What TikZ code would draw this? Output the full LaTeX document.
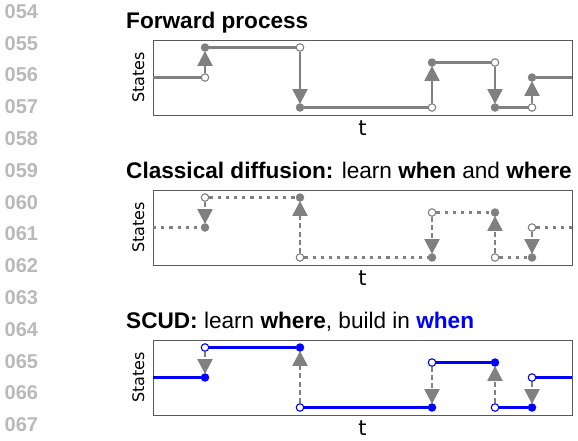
\documentclass[tikz,border=0pt]{standalone}
\usepackage{fontspec}
\setmainfont{Liberation Sans}
\newfontfamily\plotfont{DejaVu Sans}
\usetikzlibrary{arrows.meta}
\usetikzlibrary{positioning}

\definecolor{jumpgray}{RGB}{128,128,128}
\definecolor{linenum}{RGB}{185,185,185}
\definecolor{scudblue}{RGB}{0,0,255}

\begin{document}
\begin{tikzpicture}[x=1pt, y=-1pt,
    frame/.style={draw=black!65, line width=0.9pt, minimum width=419pt,
                  minimum height=75pt, inner sep=0pt},
    title/.style={anchor=base west, inner sep=0pt,
                  font=\fontsize{22.6pt}{27pt}\selectfont},
    ylab/.style={rotate=90, inner sep=0pt,
                 font=\plotfont\fontsize{16pt}{19pt}\selectfont},
    tlab/.style={anchor=base, inner sep=0pt,
                 font=\plotfont\fontsize{21pt}{25pt}\selectfont},
    opendot/.style={circle, inner sep=0pt, minimum size=7.5pt, fill=white,
                    draw=#1, line width=1.1pt},
    fulldot/.style={circle, inner sep=0pt, minimum size=8.5pt, fill=#1},
    fwline/.style={draw=jumpgray, line width=3pt},
    dotline/.style={draw=jumpgray, line width=3.2pt, dash pattern=on 3.2pt off 5pt},
    blueline/.style={draw=scudblue, line width=3pt},
    fwjump/.style={draw=jumpgray, line width=2.3pt, shorten >=-1pt,
                   -{Triangle[width=15pt, length=15pt]}},
    revjump/.style={fwjump, line width=2.4pt, dash pattern=on 5pt off 3.3pt}]
 \useasboundingbox (0,0) rectangle (578,440);

 % line numbers
 \foreach \n [count=\k from 0] in {054,055,056,057,058,059,060,061,062,063,064,065,066,067}
   \node (ln-\k) [anchor=base west, inner sep=0pt, text=linenum,
                  font=\bfseries\fontsize{20pt}{24pt}\selectfont]
         at (4.5,{18.3+31.8*\k}) {\n};

 % forward process
 \node (ttl-fw) [title] at (126,28) {\textbf{Forward process}};
 \node (box-fw) [frame] at (362.5,77.5) {};
 \node (ylab-fw) [ylab] at (138.3,77.5) {States};
 \node (tlab-fw) [tlab] at (362.5,135.5) {t};
 \coordinate (fw-0-b) at (153,77.5);
 \coordinate (fw-6-a) at (572,77.5);
 \foreach \i/\x/\a/\b in {1/205/2/4, 2/300/4/0, 3/432/0/3, 4/495/3/0, 5/532/0/2} {
   \node (fw-\i-a) [opendot=jumpgray] at (\x,{107.5-15*\a}) {};
   \node (fw-\i-b) [fulldot=jumpgray] at (\x,{107.5-15*\b}) {};
 }
 \foreach \i [evaluate=\i as \j using int(\i+1)] in {0,...,5}
   \draw[fwline] (fw-\i-b) -- (fw-\j-a);
 \foreach \i in {1,...,5}
   \draw[fwjump] (fw-\i-a) -- (fw-\i-b);

 % classical diffusion
 \begin{scope}[yshift=-150pt]
 \node (ttl-cd) [title] at (126,28)
       {\textbf{Classical diffusion:} learn \textbf{when} and \textbf{where}};
 \node (box-cd) [frame] at (362.5,77.5) {};
 \node (ylab-cd) [ylab] at (138.3,77.5) {States};
 \node (tlab-cd) [tlab] at (362.5,135.5) {t};
 \coordinate (cd-0-b) at (153,77.5);
 \coordinate (cd-6-a) at (572,77.5);
 \foreach \i/\x/\a/\b in {1/205/2/4, 2/300/4/0, 3/432/0/3, 4/495/3/0, 5/532/0/2} {
   \node (cd-\i-a) [fulldot=jumpgray] at (\x,{107.5-15*\a}) {};
   \node (cd-\i-b) [opendot=jumpgray] at (\x,{107.5-15*\b}) {};
 }
 \foreach \i [evaluate=\i as \j using int(\i+1)] in {0,...,5}
   \draw[dotline] (cd-\i-b) -- (cd-\j-a);
 \foreach \i in {1,...,5}
   \draw[revjump] (cd-\i-b) -- (cd-\i-a);
 \end{scope}

 % SCUD
 \begin{scope}[yshift=-300pt]
 \node (ttl-sc) [title] at (126,28)
       {\textbf{SCUD:} learn \textbf{where}, build in \textcolor{scudblue}{\textbf{when}}};
 \node (box-sc) [frame] at (362.5,77.5) {};
 \node (ylab-sc) [ylab] at (138.3,77.5) {States};
 \node (tlab-sc) [tlab] at (362.5,135.5) {t};
 \coordinate (sc-0-b) at (153,77.5);
 \coordinate (sc-6-a) at (572,77.5);
 \foreach \i/\x/\a/\b in {1/205/2/4, 2/300/4/0, 3/432/0/3, 4/495/3/0, 5/532/0/2} {
   \node (sc-\i-a) [fulldot=scudblue] at (\x,{107.5-15*\a}) {};
   \node (sc-\i-b) [opendot=scudblue] at (\x,{107.5-15*\b}) {};
 }
 \foreach \i [evaluate=\i as \j using int(\i+1)] in {0,...,5}
   \draw[blueline] (sc-\i-b) -- (sc-\j-a);
 \foreach \i in {1,...,5}
   \draw[revjump] (sc-\i-b) -- (sc-\i-a);
 \end{scope}
\end{tikzpicture}
\end{document}
